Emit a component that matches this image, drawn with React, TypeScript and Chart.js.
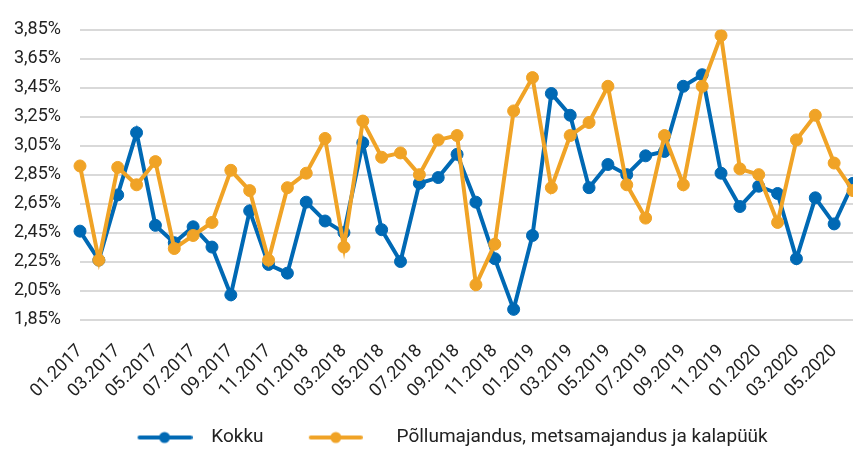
import React, { useEffect, useRef } from 'react';
import { Chart, registerables } from 'chart.js';

Chart.register(...registerables);

const labels = [
  '01.2017', '02.2017', '03.2017', '04.2017', '05.2017', '06.2017', '07.2017', '08.2017', '09.2017', '10.2017', '11.2017', '12.2017',
  '01.2018', '02.2018', '03.2018', '04.2018', '05.2018', '06.2018', '07.2018', '08.2018', '09.2018', '10.2018', '11.2018', '12.2018',
  '01.2019', '02.2019', '03.2019', '04.2019', '05.2019', '06.2019', '07.2019', '08.2019', '09.2019', '10.2019', '11.2019', '12.2019',
  '01.2020', '02.2020', '03.2020', '04.2020', '05.2020', '06.2020',
];

const kokku = [
  2.46, 2.26, 2.71, 3.14, 2.5, 2.38, 2.49, 2.35, 2.02, 2.6, 2.23, 2.17,
  2.66, 2.53, 2.45, 3.07, 2.47, 2.25, 2.79, 2.83, 2.99, 2.66, 2.27, 1.92,
  2.43, 3.41, 3.26, 2.76, 2.92, 2.85, 2.98, 3.01, 3.46, 3.54, 2.86, 2.63,
  2.77, 2.72, 2.27, 2.69, 2.51, 2.79,
];

const pollumajandus = [
  2.91, 2.26, 2.9, 2.78, 2.94, 2.34, 2.43, 2.52, 2.88, 2.74, 2.26, 2.76,
  2.86, 3.1, 2.35, 3.22, 2.97, 3.0, 2.85, 3.09, 3.12, 2.09, 2.37, 3.29,
  3.52, 2.76, 3.12, 3.21, 3.46, 2.78, 2.55, 3.12, 2.78, 3.46, 3.81, 2.89,
  2.85, 2.52, 3.09, 3.26, 2.93, 2.74,
];

const seriesNames = ['Kokku', 'Põllumajandus, metsamajandus ja kalapüük'];
const seriesColors = ['#0069B4', '#F0A326'];

const yMin = 1.85;
const yMax = 3.85;
const yStep = 0.2;

function makeMarker(color: string, width: number, lineStart: number, lineEnd: number, dot: number) {
  const c = document.createElement('canvas');
  c.width = width;
  c.height = 14;
  const ctx = c.getContext('2d')!;
  ctx.strokeStyle = color;
  ctx.lineWidth = 4;
  ctx.lineCap = 'round';
  ctx.beginPath();
  ctx.moveTo(lineStart + 2, 7);
  ctx.lineTo(lineEnd - 2, 7);
  ctx.stroke();
  ctx.fillStyle = color;
  ctx.beginPath();
  ctx.arc(dot, 7, 5.5, 0, Math.PI * 2);
  ctx.fill();
  return c;
}

export default function App() {
  const ref = useRef<HTMLCanvasElement>(null);

  useEffect(() => {
    if (!ref.current) return;
    const markers = [
      makeMarker(seriesColors[0], 98, 43, 98, 70),
      makeMarker(seriesColors[1], 68, 14, 68, 41),
    ];
    const chart = new Chart(ref.current, {
      type: 'line',
      data: {
        labels,
        datasets: [
          {
            label: seriesNames[0],
            data: kokku,
            borderColor: seriesColors[0],
            backgroundColor: seriesColors[0],
            borderWidth: 4,
            pointRadius: 6,
            pointBorderWidth: 1,
            pointBackgroundColor: seriesColors[0],
            pointBorderColor: seriesColors[0],
            tension: 0,
            order: 1,
          },
          {
            label: seriesNames[1],
            data: pollumajandus,
            borderColor: seriesColors[1],
            backgroundColor: seriesColors[1],
            borderWidth: 4,
            pointRadius: 6,
            pointBorderWidth: 1,
            pointBackgroundColor: seriesColors[1],
            pointBorderColor: seriesColors[1],
            tension: 0,
            order: 0,
          },
        ],
      },
      options: {
        responsive: false,
        animation: false,
        layout: { autoPadding: false, padding: { top: 24, left: 0, right: 0, bottom: -8 } },
        plugins: {
          tooltip: { enabled: false },
          legend: {
            display: true,
            position: 'bottom',
            labels: {
              usePointStyle: true,
              pointStyleWidth: 116.5,
              padding: 7,
              color: '#222',
              font: { family: 'Roboto', size: 19 },
              generateLabels: (ch: any) =>
                ch.data.datasets.map((ds: any, i: number) => ({
                  text: ds.label,
                  fillStyle: ds.borderColor,
                  strokeStyle: ds.borderColor,
                  lineWidth: 0,
                  pointStyle: markers[i],
                  hidden: false,
                  datasetIndex: i,
                  fontColor: '#222',
                })),
            },
          },
        },
        scales: {
          x: {
            grid: { display: false, drawTicks: false },
            border: { display: false },
            afterFit: (s: any) => {
              s.height = 101.5;
              s.paddingLeft = 0;
              s.paddingRight = 0;
            },
            ticks: {
              autoSkip: false,
              maxRotation: 45,
              minRotation: 45,
              padding: 21,
              color: '#222',
              font: { family: 'Roboto', size: 18 },
              callback: (_v: any, i: number) => (i % 2 === 0 ? labels[i] : ''),
            },
          },
          y: {
            min: yMin,
            max: yMax,
            grid: { color: '#d9d9d9', lineWidth: 2, drawTicks: false },
            border: { display: false },
            afterFit: (s: any) => {
              s.width = 80;
            },
            ticks: {
              stepSize: yStep,
              padding: 19,
              color: '#222',
              font: { family: 'Roboto', size: 18 },
              callback: (v: any) => Number(v).toFixed(2).replace('.', ',') + '%',
            },
          },
        },
      },
    });
    return () => chart.destroy();
  }, []);

  return (
    <div style={{ position: 'fixed', left: 0, top: 0, width: 853, height: 449, background: '#fff' }}>
      <canvas ref={ref} width={853} height={449} />
    </div>
  );
}
